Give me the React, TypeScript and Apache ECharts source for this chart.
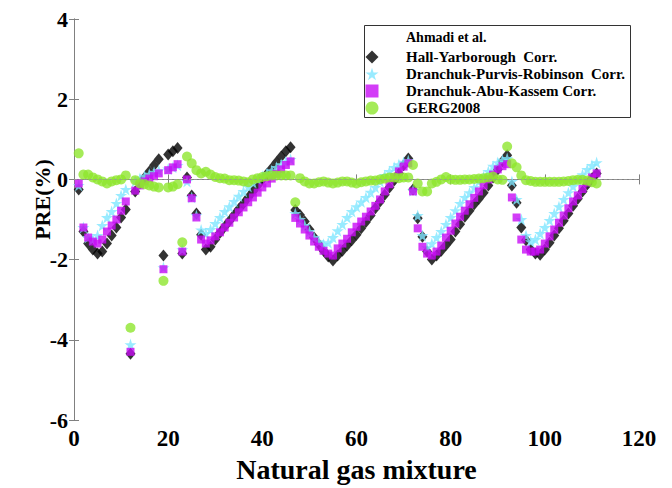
import React, { useEffect, useRef } from 'react';
import * as echarts from 'echarts';

// PRE (%) per natural gas mixture (mixture number = position + 1)
const hallYarborough = [
  -0.25, -1.3, -1.6, -1.75, -1.85, -1.8, -1.6, -1.4, -1.2, -0.95,
  -0.75, -4.35, -0.3, -0.1, 0.05, 0.2, 0.35, 0.5, -1.9, 0.62,
  0.7, 0.78, -1.85, 0.05, -0.4, -0.85, -1.38, -1.75, -1.68, -1.5,
  -1.33, -1.18, -1.04, -0.89, -0.74, -0.6, -0.45, -0.3, -0.15, 0.0,
  0.14, 0.28, 0.43, 0.57, 0.7, 0.8, -0.76, -0.89, -1.05, -1.25,
  -1.45, -1.62, -1.78, -1.92, -2.02, -1.9, -1.78, -1.65, -1.52, -1.38,
  -1.22, -1.06, -0.9, -0.72, -0.55, -0.38, -0.2, -0.03, 0.15, 0.35,
  0.52, -0.25, -0.97, -1.43, -1.8, -2.0, -1.9, -1.78, -1.64, -1.5,
  -1.3, -1.12, -0.93, -0.78, -0.62, -0.48, -0.33, -0.15, 0.05, 0.25,
  0.45, 0.6, -0.15, -0.58, -1.2, -1.52, -1.75, -1.85, -1.88, -1.75,
  -1.58, -1.4, -1.22, -1.03, -0.85, -0.66, -0.48, -0.3, -0.13, 0.02,
  0.15,
];

const dranchukPurvisRobinson = [
  -0.15, -1.2, -1.45, -1.5, -1.4, -1.15, -0.95, -0.8, -0.6, -0.4,
  -0.25, -4.12, -0.05, 0.02, 0.08, 0.13, 0.18, 0.22, -2.2, 0.26,
  0.3, 0.35, -1.75, -0.05, -0.45, -0.9, -1.26, -1.35, -1.25, -1.1,
  -0.95, -0.8, -0.68, -0.55, -0.42, -0.3, -0.18, -0.08, 0.0, 0.08,
  0.15, 0.22, 0.3, 0.37, 0.44, 0.5, -0.85, -1.0, -1.15, -1.3,
  -1.45, -1.55, -1.62, -1.58, -1.45, -1.28, -1.12, -0.95, -0.8, -0.68,
  -0.56, -0.45, -0.32, -0.2, -0.05, 0.1, 0.2, 0.3, 0.37, 0.43,
  0.47, -0.28, -0.9, -1.4, -1.7, -1.6, -1.45, -1.3, -1.12, -0.95,
  -0.78, -0.6, -0.45, -0.33, -0.2, -0.05, 0.07, 0.2, 0.33, 0.42,
  0.48, 0.52, -0.05, -0.5, -1.0, -1.4, -1.55, -1.5, -1.35, -1.2,
  -1.02, -0.85, -0.68, -0.5, -0.33, -0.17, -0.02, 0.12, 0.25, 0.35,
  0.42,
];

const dranchukAbuKassem = [
  -0.1, -1.2, -1.45, -1.55, -1.6, -1.5, -1.3, -1.15, -1.0, -0.78,
  -0.55, -4.3, -0.28, -0.15, -0.05, 0.02, 0.08, 0.15, -2.24, 0.23,
  0.3, 0.38, -1.8, 0.0, -0.47, -0.95, -1.5, -1.6, -1.52, -1.42,
  -1.32, -1.2, -1.08, -0.95, -0.82, -0.7, -0.57, -0.45, -0.33, -0.2,
  -0.1, 0.02, 0.14, 0.25, 0.36, 0.45, -0.96, -1.1, -1.25, -1.4,
  -1.55, -1.68, -1.78, -1.85, -1.9, -1.72, -1.6, -1.48, -1.32, -1.18,
  -1.05, -0.93, -0.8, -0.66, -0.5, -0.3, -0.12, 0.05, 0.2, 0.32,
  0.4, -0.3, -1.22, -1.68, -1.85, -1.9, -1.8, -1.65, -1.45, -1.28,
  -1.1, -0.93, -0.78, -0.62, -0.46, -0.3, -0.15, 0.0, 0.12, 0.25,
  0.33, 0.38, -0.45, -0.95, -1.5, -1.75, -1.8, -1.8, -1.75, -1.6,
  -1.42, -1.25, -1.08, -0.9, -0.72, -0.55, -0.4, -0.24, -0.08, 0.05,
  0.15,
];

const gerg2008 = [
  0.65, 0.12, 0.12, 0.05, 0.0, -0.05, -0.1, -0.05, -0.02, 0.0,
  0.1, -3.7, -0.02, -0.1, -0.12, -0.15, -0.18, -0.2, -2.53, -0.2,
  -0.18, -0.12, -1.57, 0.57, 0.4, 0.23, 0.15, 0.19, 0.12, 0.06,
  0.03, 0.02, -0.02, -0.02, -0.03, -0.05, -0.07, 0.0, 0.03, 0.06,
  0.08, 0.1, 0.1, 0.1, 0.1, 0.1, -0.57, 0.03, -0.05, -0.1,
  -0.1, -0.07, -0.05, -0.08, -0.1, -0.08, -0.05, -0.05, -0.08, -0.1,
  -0.07, -0.05, -0.03, -0.03, 0.0, 0.02, 0.05, 0.05, 0.03, 0.05,
  0.05, 0.36, -0.1, -0.3, -0.3, -0.1, -0.06, 0.0, 0.06, 0.0,
  -0.01, -0.01, 0.0, 0.0, 0.01, 0.02, 0.03, 0.05, 0.07, 0.0,
  -0.01, 0.82, 0.4, 0.3, 0.1, -0.02, -0.04, -0.06, -0.06, -0.06,
  -0.06, -0.06, -0.06, -0.05, -0.04, -0.02, -0.01, -0.01, -0.03, -0.07,
  -0.1,
];

const seriesNames = [
  'Hall-Yarborough  Corr.',
  'Dranchuk-Purvis-Robinson  Corr.',
  'Dranchuk-Abu-Kassem Corr.',
  'GERG2008',
];
const legendTitle = 'Ahmadi et al.';
const xAxisTitle = 'Natural gas mixture';
const yAxisTitle = 'PRE(%)';

const SERIF = 'Liberation Serif';
const STAR = 'path://M50,0L61.2,34.5L97.6,34.5L68.2,55.9L79.4,90.5L50,69.1L20.6,90.5L31.8,55.9L2.4,34.5L38.8,34.5Z';
const AXIS_GRAY = '#808080';

const toPairs = (vals: number[]) => vals.map((v, i) => [i + 1, v]);

export default function App() {
  const ref = useRef<HTMLDivElement>(null);

  useEffect(() => {
    document.body.style.margin = '0';
    if (!ref.current) return;
    const chart = echarts.init(ref.current, null, { renderer: 'svg' });

    const frameAxis = {
      axisLine: { show: true, lineStyle: { color: AXIS_GRAY, width: 1 } },
      axisTick: { show: true, inside: true, length: 5, lineStyle: { color: AXIS_GRAY } },
      splitLine: { show: false },
    };

    chart.setOption({
      animation: false,
      backgroundColor: '#ffffff',
      title: {
        text: legendTitle, left: 406, top: 30, padding: 0, z: 6,
        textStyle: { color: '#000', fontFamily: SERIF, fontWeight: 'bold', fontSize: 14 },
      },
      grid: { left: 74, top: 19, right: 33, bottom: 68, show: false },
      xAxis: [
        {
          type: 'value', min: 0, max: 120, interval: 20, position: 'bottom',
          ...frameAxis,
          axisLabel: { color: '#000', fontFamily: SERIF, fontWeight: 'bold', fontSize: 23, margin: 7 },
          name: xAxisTitle, nameLocation: 'middle', nameGap: 35, nameMoveOverlap: false,
          nameTextStyle: { color: '#000', fontFamily: SERIF, fontWeight: 'bold', fontSize: 28 },
        },
        {
          type: 'value', min: 0, max: 120, interval: 20, position: 'top',
          ...frameAxis,
          axisLabel: { show: false },
        },
      ],
      yAxis: [
        {
          type: 'value', min: -6, max: 4, interval: 2, position: 'left',
          ...frameAxis,
          axisLabel: { color: '#000', fontFamily: SERIF, fontWeight: 'bold', fontSize: 22, margin: 6 },
          name: yAxisTitle, nameLocation: 'middle', nameGap: 21, nameMoveOverlap: false,
          nameTextStyle: { color: '#000', fontFamily: SERIF, fontWeight: 'bold', fontSize: 22, padding: [0, 0, 0, 40] },
        },
        {
          type: 'value', min: -6, max: 4, interval: 2, position: 'right',
          ...frameAxis,
          axisLabel: { show: false },
        },
      ],
      legend: {
        orient: 'vertical', left: 365.5, top: 49, padding: 0,
        itemWidth: 13, itemHeight: 13, itemGap: 1,
        textStyle: { color: '#000', fontFamily: SERIF, fontWeight: 'bold', fontSize: 15, lineHeight: 16, padding: [0, 0, 0, 22.5] },
        data: seriesNames,
      },
      graphic: [
        {
          type: 'rect', z: 0,
          shape: { x: 364.5, y: 25.5, width: 266, height: 92 },
          style: { fill: '#ffffff', stroke: '#333333', lineWidth: 1 },
        },
      ],
      series: [
        {
          name: seriesNames[0], type: 'scatter', data: toPairs(hallYarborough),
          symbol: 'diamond', symbolSize: [10, 12], itemStyle: { color: '#000000' },
          markLine: {
            silent: true, symbol: 'none', label: { show: false },
            lineStyle: { color: '#999999', type: [3, 2], width: 0.8 },
            data: [{ yAxis: 0 }],
          },
        },
        {
          name: seriesNames[1], type: 'scatter', data: toPairs(dranchukPurvisRobinson),
          symbol: STAR, symbolSize: 12, itemStyle: { color: '#80e6ff' },
        },
        {
          name: seriesNames[2], type: 'scatter', data: toPairs(dranchukAbuKassem),
          symbol: 'rect', symbolSize: 8, itemStyle: { color: '#c80cf5' },
        },
        {
          name: seriesNames[3], type: 'scatter', data: toPairs(gerg2008),
          symbol: 'circle', symbolSize: 10, itemStyle: { color: '#8ee62e' },
        },
      ],
    });

    return () => chart.dispose();
  }, []);

  return <div ref={ref} style={{ width: 672, height: 488 }} />;
}
